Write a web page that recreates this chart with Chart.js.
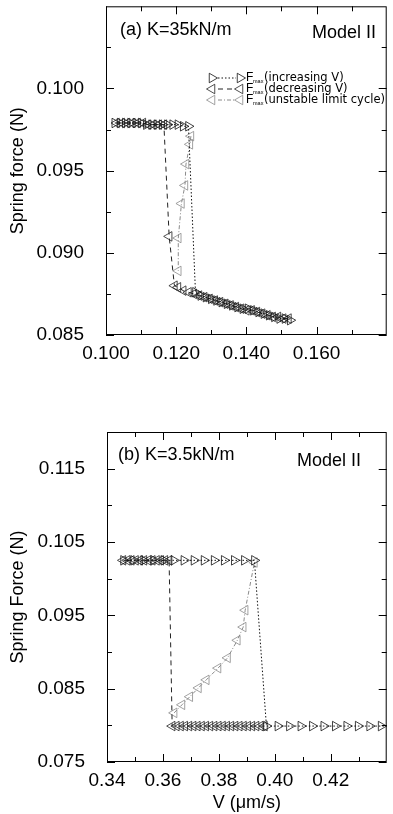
<!DOCTYPE html>
<html>
<head>
<meta charset="utf-8">
<title>Spring force vs V, Model II</title>
<script src="https://cdn.jsdelivr.net/npm/chart.js@4.4.1/dist/chart.umd.min.js"></script>
<style>
  html, body { margin: 0; padding: 0; background: #fff; }
  .panel { position: absolute; left: 0; }
  #panelA { top: 0; }
  #panelB { top: 400px; }
</style>
</head>
<body>
<canvas id="panelA" class="panel" width="393" height="385"></canvas>
<canvas id="panelB" class="panel" width="393" height="414"></canvas>
<script>
// (a) K=35kN/m
const aIncV = [0.1025, 0.1040, 0.1055, 0.1070, 0.1085, 0.1100, 0.1115, 0.1130, 0.1145, 0.1160, 0.1175, 0.1190, 0.1205, 0.1220, 0.1235,
  0.1255, 0.1270, 0.1285, 0.1300, 0.1315, 0.1330, 0.1345, 0.1360, 0.1375, 0.1390, 0.1405, 0.1420, 0.1435, 0.1450, 0.1465, 0.1480, 0.1495, 0.1510, 0.1525];
const aIncF = [0.0979, 0.0979, 0.0979, 0.0979, 0.0979, 0.0979, 0.0978, 0.0978, 0.0978, 0.0978, 0.0978, 0.0978, 0.0978, 0.0977, 0.0977,
  0.0876, 0.0874, 0.0873, 0.0872, 0.0871, 0.0870, 0.0869, 0.0868, 0.0867, 0.0866, 0.0866, 0.0865, 0.0864, 0.0863, 0.0862, 0.0861, 0.0860, 0.0860, 0.0859];
const aDecV = [0.1520, 0.1505, 0.1490, 0.1475, 0.1460, 0.1445, 0.1430, 0.1415, 0.1400, 0.1385, 0.1370, 0.1355, 0.1340, 0.1325, 0.1310, 0.1295,
  0.1280, 0.1265, 0.1250, 0.1235, 0.1220, 0.1205, 0.1195, 0.1180,
  0.1165, 0.1150, 0.1135, 0.1120, 0.1105, 0.1090, 0.1075, 0.1060, 0.1045, 0.1030];
const aDecF = [0.0860, 0.0860, 0.0861, 0.0861, 0.0862, 0.0863, 0.0864, 0.0865, 0.0865, 0.0866, 0.0867, 0.0868, 0.0869, 0.0870, 0.0871, 0.0872,
  0.0873, 0.0874, 0.0875, 0.0876, 0.0877, 0.0879, 0.0880, 0.0910,
  0.0978, 0.0978, 0.0978, 0.0978, 0.0979, 0.0979, 0.0979, 0.0979, 0.0979, 0.0979];
const aUnsV = [0.1242, 0.1239, 0.1228, 0.1225, 0.1215, 0.1206, 0.1206];
const aUnsF = [0.0971, 0.0966, 0.0954, 0.0941, 0.0930, 0.0909, 0.0889];
const aXTicks = [0.100, 0.120, 0.140, 0.160];
const aXMinor = [0.110, 0.130, 0.150, 0.170];
const aYTicks = [0.085, 0.090, 0.095, 0.100];
const aYMinor = [0.0875, 0.0925, 0.0975, 0.1025];

// (b) K=3.5kN/m
const bIncV = [0.3459, 0.3495, 0.3531, 0.3567, 0.3603, 0.3639, 0.3675, 0.3711, 0.3747, 0.3783, 0.3819, 0.3855, 0.3891, 0.3927,
  0.3970, 0.4011, 0.4052, 0.4093, 0.4134, 0.4175, 0.4216, 0.4257, 0.4298, 0.4339, 0.4380, 0.4421];
const bIncF = [0.1025, 0.1025, 0.1025, 0.1025, 0.1025, 0.1025, 0.1025, 0.1025, 0.1025, 0.1025, 0.1025, 0.1025, 0.1025, 0.1025,
  0.0799, 0.0799, 0.0799, 0.0799, 0.0799, 0.0799, 0.0799, 0.0799, 0.0799, 0.0799, 0.0799, 0.0799];
const bDecV = [0.3963, 0.3948, 0.3933, 0.3918, 0.3903, 0.3888, 0.3873, 0.3858, 0.3843, 0.3828, 0.3813, 0.3798, 0.3783, 0.3768, 0.3753,
  0.3738, 0.3723, 0.3708, 0.3693, 0.3678, 0.3663, 0.3648, 0.3633,
  0.3622, 0.3607, 0.3592, 0.3577, 0.3562, 0.3547, 0.3532, 0.3517, 0.3502, 0.3487, 0.3472, 0.3457];
const bDecF = [0.0799, 0.0799, 0.0799, 0.0799, 0.0799, 0.0799, 0.0799, 0.0799, 0.0799, 0.0799, 0.0799, 0.0799, 0.0799, 0.0799, 0.0799,
  0.0799, 0.0799, 0.0799, 0.0799, 0.0799, 0.0799, 0.0799, 0.0799,
  0.1025, 0.1025, 0.1025, 0.1025, 0.1025, 0.1025, 0.1025, 0.1025, 0.1025, 0.1025, 0.1025, 0.1025];
const bUnsV = [0.3640, 0.3668, 0.3696, 0.3727, 0.3755, 0.3797, 0.3831, 0.3866, 0.3887, 0.3894, 0.3927];
const bUnsF = [0.0817, 0.0828, 0.0839, 0.0851, 0.0862, 0.0878, 0.0892, 0.0916, 0.0934, 0.0957, 0.1022];
const bXTicks = [0.34, 0.36, 0.38, 0.40, 0.42];
const bXMinor = [0.35, 0.37, 0.39, 0.41, 0.43];
const bYTicks = [0.075, 0.085, 0.095, 0.105, 0.115];
const bYMinor = [0.080, 0.090, 0.100, 0.110];

const FONT = "'Liberation Sans', Arial, Helvetica, sans-serif";

const styles = {
  inc: { color: '#111', dash: [1.5, 2], rot: 90 },
  dec: { color: '#222', dash: [5, 4], rot: -90 },
  uns: { color: '#8a8a8a', dash: [4, 2, 1, 2], rot: -90 },
};

const pts = (xs, ys) => xs.map((x, i) => ({ x, y: ys[i] }));

function dataset(label, xs, ys, s) {
  return {
    label,
    data: pts(xs, ys),
    showLine: true,
    borderColor: s.color,
    borderWidth: 1,
    borderDash: s.dash,
    pointStyle: 'triangle',
    pointRotation: s.rot,
    pointRadius: 5.5,
    pointBorderColor: s.color,
    pointBackgroundColor: 'rgba(0,0,0,0)',
    pointBorderWidth: 0.8,
  };
}

// same geometry as chart.js triangle point
function triangle(ctx, x, y, r, rot) {
  const rad = rot * Math.PI / 180;
  ctx.beginPath();
  for (let k = 0; k < 3; k++) {
    const a = rad + k * 2 * Math.PI / 3;
    const px = x + Math.sin(a) * r;
    const py = y - Math.cos(a) * r;
    if (k) ctx.lineTo(px, py); else ctx.moveTo(px, py);
  }
  ctx.closePath();
  ctx.stroke();
}

// box round the plot with inward ticks on all four sides
const framePlugin = {
  id: 'frame',
  afterDatasetsDraw(chart, args, opts) {
    const { ctx, chartArea: a } = chart;
    const { x, y } = chart.scales;
    ctx.save();
    ctx.strokeStyle = '#000';
    ctx.lineWidth = 1;
    ctx.setLineDash([]);
    ctx.strokeRect(a.left + 0.5, a.top + 0.5, a.right - a.left - 1, a.bottom - a.top - 1);
    ctx.beginPath();
    const xMarks = (vals, len) => vals.forEach(v => {
      const px = Math.round(x.getPixelForValue(v)) + 0.5;
      ctx.moveTo(px, a.bottom); ctx.lineTo(px, a.bottom - len);
      ctx.moveTo(px, a.top); ctx.lineTo(px, a.top + len);
    });
    const yMarks = (vals, len) => vals.forEach(v => {
      const py = Math.round(y.getPixelForValue(v)) + 0.5;
      ctx.moveTo(a.left, py); ctx.lineTo(a.left + len, py);
      ctx.moveTo(a.right, py); ctx.lineTo(a.right - len, py);
    });
    xMarks(opts.xMajor, 8);
    xMarks(opts.xMinor, 5);
    yMarks(opts.yMajor, 8);
    yMarks(opts.yMinor, 5);
    ctx.stroke();
    ctx.restore();
  },
};

// panel labels and the hand drawn key
const notesPlugin = {
  id: 'notes',
  afterDraw(chart, args, opts) {
    const ctx = chart.ctx;
    ctx.save();
    ctx.fillStyle = '#000';
    ctx.textBaseline = 'middle';
    ctx.textAlign = 'left';
    (opts.texts || []).forEach(t => {
      ctx.font = t.size + 'px ' + FONT;
      ctx.fillText(t.text, t.x, t.y);
    });
    (opts.key || []).forEach(row => {
      const s = styles[row.style];
      ctx.strokeStyle = s.color;
      ctx.lineWidth = 0.8;
      ctx.setLineDash([]);
      triangle(ctx, 212, row.y, 5.5, s.rot);
      triangle(ctx, 240, row.y, 5.5, s.rot);
      ctx.lineWidth = 1;
      ctx.setLineDash(s.dash);
      ctx.beginPath();
      ctx.moveTo(218, row.y);
      ctx.lineTo(236, row.y);
      ctx.stroke();
      ctx.setLineDash([]);
      ctx.fillStyle = '#000';
      ctx.font = '12px ' + FONT;
      ctx.fillText('F', 246, row.y);
      ctx.font = '5.5px ' + FONT;
      ctx.fillText('max', 253, row.y + 3);
      ctx.font = "11.5px 'DejaVu Sans', sans-serif";
      ctx.fillText(row.text, 264, row.y);
    });
    ctx.restore();
  },
};

function axisFont(size) {
  return { family: FONT, size };
}

function panel(id, p) {
  const ctx = document.getElementById(id).getContext('2d');
  return new Chart(ctx, {
    type: 'scatter',
    data: {
      datasets: [
        dataset('Fmax (increasing V)', p.inc[0], p.inc[1], styles.inc),
        dataset('Fmax (decreasing V)', p.dec[0], p.dec[1], styles.dec),
        dataset('Fmax (unstable limit cycle)', p.uns[0], p.uns[1], styles.uns),
      ],
    },
    plugins: [framePlugin, notesPlugin],
    options: {
      responsive: false,
      animation: false,
      devicePixelRatio: 1,
      events: [],
      layout: { padding: p.padding },
      plugins: {
        legend: { display: false },
        tooltip: { enabled: false },
        frame: { xMajor: p.xTicks, xMinor: p.xMinor, yMajor: p.yTicks, yMinor: p.yMinor },
        notes: { texts: p.texts, key: p.key },
      },
      scales: {
        x: {
          type: 'linear',
          min: p.xRange[0],
          max: p.xRange[1],
          grid: { display: false },
          border: { display: false },
          afterBuildTicks: s => { s.ticks = p.xTicks.map(v => ({ value: v })); },
          afterFit: s => { s.height = p.xHeight; s.paddingLeft = 0; s.paddingRight = 0; },
          ticks: {
            autoSkip: false,
            maxRotation: 0,
            padding: -1,
            color: '#000',
            font: axisFont(19),
            callback: v => v.toFixed(p.xDigits),
          },
          title: p.xTitle
            ? { display: true, text: p.xTitle, color: '#000', font: axisFont(18), padding: { top: 1, bottom: 0 } }
            : { display: false },
        },
        y: {
          type: 'linear',
          min: p.yRange[0],
          max: p.yRange[1],
          grid: { display: false },
          border: { display: false },
          afterBuildTicks: s => { s.ticks = p.yTicks.map(v => ({ value: v })); },
          afterFit: s => { s.width = p.yWidth; s.paddingTop = 0; s.paddingBottom = 0; },
          ticks: {
            autoSkip: false,
            padding: 14,
            color: '#000',
            font: axisFont(19),
            callback: v => v.toFixed(3),
          },
          title: { display: true, text: p.yTitle, color: '#000', font: axisFont(18), padding: { top: 7, bottom: 0 } },
        },
      },
    },
  });
}

panel('panelA', {
  inc: [aIncV, aIncF], dec: [aDecV, aDecF], uns: [aUnsV, aUnsF],
  xRange: [0.100, 0.180], yRange: [0.085, 0.105],
  xTicks: aXTicks, xMinor: aXMinor, yTicks: aYTicks, yMinor: aYMinor,
  xDigits: 3, xHeight: 50, yWidth: 106,
  padding: { top: 5, right: 1, left: 0, bottom: 0 },
  yTitle: 'Spring force (N)',
  texts: [
    { text: '(a) K=35kN/m', x: 120, y: 30, size: 18 },
    { text: 'Model II', x: 312, y: 33, size: 18 },
  ],
  key: [
    { style: 'inc', y: 78, text: '(increasing V)' },
    { style: 'dec', y: 89, text: '(decreasing V)' },
    { style: 'uns', y: 100, text: '(unstable limit cycle)' },
  ],
});

panel('panelB', {
  inc: [bIncV, bIncF], dec: [bDecV, bDecF], uns: [bUnsV, bUnsF],
  xRange: [0.34, 0.44], yRange: [0.075, 0.120],
  xTicks: bXTicks, xMinor: bXMinor, yTicks: bYTicks, yMinor: bYMinor,
  xDigits: 2, xHeight: 52, yWidth: 107,
  padding: { top: 32, right: 1, left: 0, bottom: 0 },
  xTitle: 'V (\u03bcm/s)',
  yTitle: 'Spring Force (N)',
  texts: [
    { text: '(b) K=3.5kN/m', x: 118, y: 55, size: 18 },
    { text: 'Model II', x: 297, y: 61, size: 18 },
  ],
});
</script>
</body>
</html>
